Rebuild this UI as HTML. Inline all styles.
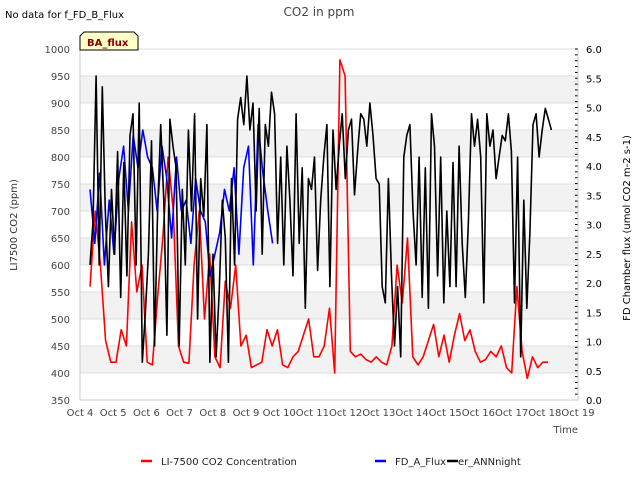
<!DOCTYPE html>
<html><head><meta charset="utf-8"><style>
body{margin:0;background:#fff;font-family:"DejaVu Sans","Liberation Sans",sans-serif}
svg text{font-family:"DejaVu Sans","Liberation Sans",sans-serif}
</style></head><body>
<svg id="chart" width="640" height="480" xmlns="http://www.w3.org/2000/svg">
<text x="5" y="18" font-size="10" fill="#000">No data for f_FD_B_Flux</text>
<text x="319" y="16" font-size="12" fill="#444" text-anchor="middle">CO2 in ppm</text>
<g id="bands"></g>
<g id="grid"></g>
<g id="series"></g>
<g id="axes"></g>
<text transform="translate(17,225) rotate(-90)" font-size="10" fill="#333" text-anchor="middle">LI7500 CO2 (ppm)</text>
<text transform="translate(630,228) rotate(-90)" font-size="10" fill="#000" text-anchor="middle">FD Chamber flux (umol CO2 m-2 s-1)</text>
<text x="578" y="433" font-size="10" fill="#444" text-anchor="end">Time</text>
<g>
<path d="M80,50 L80,36 L84,32 L134,32 L138,36 L138,50 Z" fill="#ffffc8" stroke="#000" stroke-width="1"/>
<text x="87" y="46" font-size="10" font-weight="bold" fill="#8b0000">BA_flux</text>
</g>
<g>
<line x1="141" y1="461" x2="152" y2="461" stroke="#f00" stroke-width="2.5"/>
<text x="161" y="465" font-size="10" fill="#222">LI-7500 CO2 Concentration</text>
<line x1="375" y1="461" x2="386" y2="461" stroke="#00f" stroke-width="2.5"/>
<text x="395" y="465" font-size="10" fill="#222">FD_A_Flux</text>
<line x1="447" y1="461" x2="458" y2="461" stroke="#000" stroke-width="2.5"/>
<text x="458" y="465" font-size="10" fill="#222">er_ANNnight</text>
</g>
</svg>
<script>
const leftTicks=[350,400,450,500,550,600,650,700,750,800,850,900,950,1000];
const rightTicks=["0.0","0.5","1.0","1.5","2.0","2.5","3.0","3.5","4.0","4.5","5.0","5.5","6.0"];
const dayLabels=["Oct 4","Oct 5","Oct 6","Oct 7","Oct 8","Oct 9","Oct 10","Oct 11","Oct 12","Oct 13","Oct 14","Oct 15","Oct 16","Oct 17","Oct 18","Oct 19"];
const redStart=4.3, redEnd=18.1;
const redValues=[560,700,600,460,420,420,480,450,680,550,600,420,415,540,650,800,700,450,420,418,600,700,500,620,430,410,570,520,600,450,470,410,415,420,480,450,480,415,410,430,440,470,500,430,430,450,520,400,980,950,440,430,435,425,420,430,420,415,450,600,530,650,430,415,430,460,490,430,470,420,470,510,460,480,440,420,425,440,430,450,410,400,560,440,390,430,410,420,420];
const blueStart=4.3, blueEnd=9.8;
const blueValues=[740,640,770,600,720,620,760,820,700,840,780,850,800,780,700,820,760,650,800,700,720,640,760,700,680,580,620,660,740,700,780,620,780,820,600,860,770,700,640];
const blackStart=4.3, blackEnd=18.2;
const blackValues=[600,680,950,600,930,700,560,
740,620,810,540,790,580,840,880,600,900,420,
510,620,830,450,700,860,720,470,870,820,780,450,
740,600,850,700,880,500,760,690,860,420,620,
430,550,720,650,420,760,600,870,910,860,950,
850,900,700,890,620,860,820,920,880,640,800,
600,820,720,580,880,640,780,520,760,740,800,
590,720,800,860,560,850,740,820,880,760,850,
870,730,810,880,870,820,900,840,760,750,560,
530,760,580,450,560,430,800,840,860,700,600,
800,540,780,520,880,820,580,800,530,700,560,
790,560,820,640,540,680,880,820,870,800,530,
880,820,850,760,800,840,830,880,810,530,800,
430,720,520,660,860,880,800,850,890,870,850];

const X0=80,X1=578,Y0=400,Y1=49;
const xs=d=>X0+(d-4)/15*(X1-X0);
const yl=v=>Y0-(v-350)/650*(Y0-Y1);
const yr=v=>Y0-v/6*(Y0-Y1);
const NS="http://www.w3.org/2000/svg";
function mk(tag,attrs,parent){const e=document.createElementNS(NS,tag);for(const k in attrs)e.setAttribute(k,attrs[k]);document.getElementById(parent).appendChild(e);return e;}

for(let v=400;v<1000;v+=100){
  const b=mk('rect',{x:X0,y:yl(v+50),width:X1-X0,height:yl(v)-yl(v+50),fill:'#f2f2f2'},'bands');
  
  
}
leftTicks.forEach(v=>{
  const l=mk('line',{x1:X0,x2:X1,y1:yl(v),y2:yl(v),stroke:'#ddd','stroke-width':1},'grid');
  
  
  const t=mk('text',{x:X0-10,y:yl(v)+4,'font-size':10,fill:'#444','text-anchor':'end'},'axes');
  t.textContent=v;
  
  
});
rightTicks.forEach(s=>{
  const v=parseFloat(s);
  const t=mk('text',{x:X1+8,y:yr(v)+4,'font-size':10,fill:'#000'},'axes');
  t.textContent=s;
  
  
});
for(let i=0;i<=60;i++){
  const v=i*0.1;
  const l=mk('line',{x1:X1-3,x2:X1,y1:yr(v),y2:yr(v),stroke:'#000','stroke-width':1},'axes');
  
  
}
dayLabels.forEach((s,i)=>{
  const t=mk('text',{x:xs(4+i),y:416,'font-size':10,fill:'#444','text-anchor':'middle'},'axes');
  t.textContent=s;
  
  
});
const ax=mk('path',{d:`M${X0},${Y1} L${X0},${Y0} L${X1},${Y0} L${X1},${Y1}`,fill:'none',stroke:'#ccc','stroke-width':1},'axes');



function series(vals,start,end,color,yf,name){
  const n=vals.length;
  const d=vals.map((v,i)=>(i?'L':'M')+xs(start+i*(end-start)/(n-1)).toFixed(1)+','+yf(v).toFixed(1)).join(' ');
  const p=mk('path',{d:d,fill:'none',stroke:color,'stroke-width':1.6,'stroke-linejoin':'round'},'series');
  
  
}
series(redValues,redStart,redEnd,'#f00',yl,'li7500-co2-line');
series(blueValues,blueStart,blueEnd,'#00f',yl,'fd-a-flux-line');
series(blackValues,blackStart,blackEnd,'#000',yl,'er-annnight-line');
</script>
</body></html>
